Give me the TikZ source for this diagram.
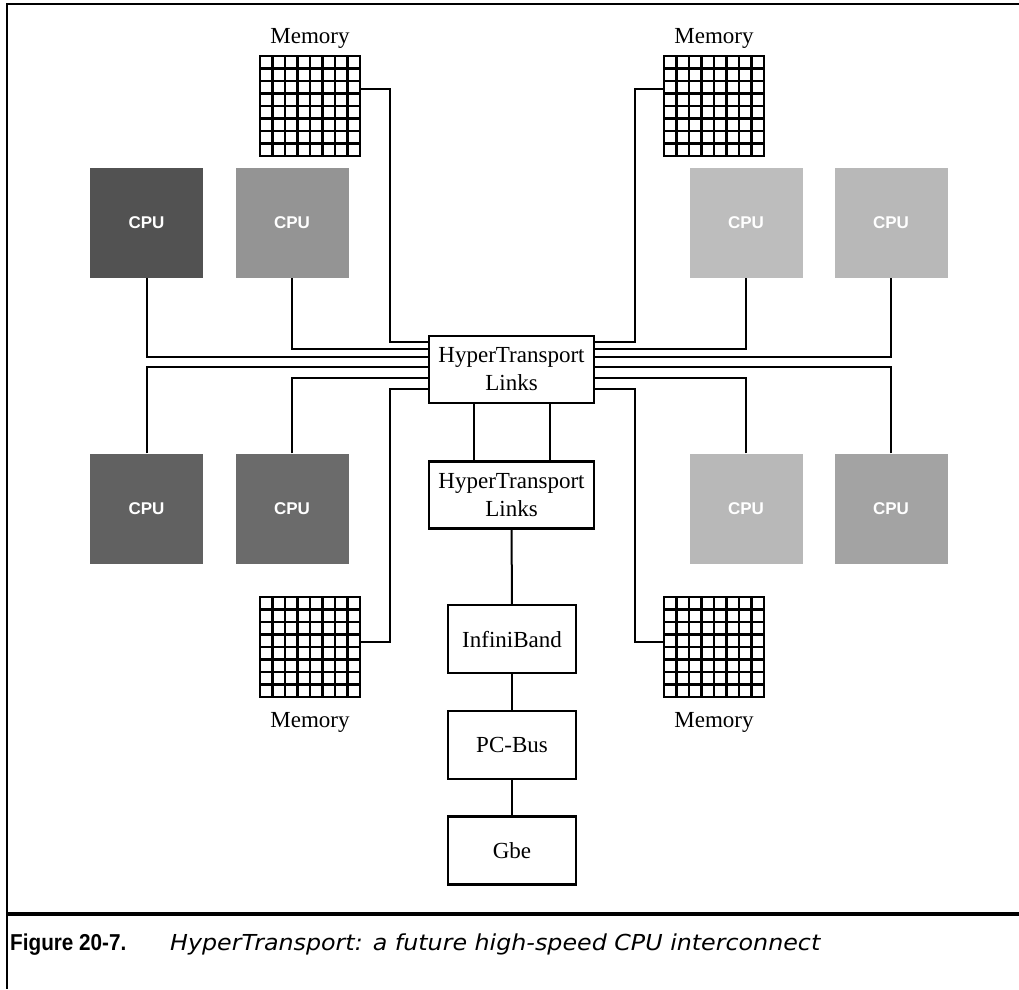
\documentclass[tikz,border=0pt]{standalone}
\usepackage{graphicx}
\usepackage{fontspec}
\setmainfont{Liberation Serif}
\newfontfamily\capsans{Liberation Sans}
\newfontfamily\capwide{DejaVu Sans}
\usetikzlibrary{positioning,calc}

\begin{document}
\begin{tikzpicture}[x=1pt,y=-1pt,
 box/.style={draw,line width=2.2pt,minimum width=165pt,minimum height=67pt,inner sep=2pt,align=center,font=\fontsize{23}{28}\selectfont},
 bus/.style={box,minimum width=128pt,minimum height=68pt},
 mem/.style={draw,line width=2.8pt,minimum size=100pt,inner sep=0pt,outer sep=0pt},
 cell/.style={line width=2.5pt},
 cpu/.style={minimum width=113pt,minimum height=110pt,inner sep=0pt,text=white,font=\capsans\bfseries\fontsize{17}{17}\selectfont},
 lab/.style={font=\fontsize{23}{28}\selectfont},
 link/.style={line width=2pt},
 frame/.style={line width=2pt}]
 \useasboundingbox (0,0) rectangle (1019,989);
 % page frame and caption rule
 \draw[frame] (1019,4) -- (7,4) -- (7,989);
 \draw[line width=3.5pt] (7,914) -- (1019,914);
 % memories
 \node[mem] (m1) at (310,106) {}; \node[lab] (ml1) at (310,38) {Memory};
 \node[mem] (m2) at (714,106) {}; \node[lab] (ml2) at (714,38) {Memory};
 \node[mem] (m3) at (310,647) {}; \node[lab] (ml3) at (310,722) {Memory};
 \node[mem] (m4) at (714,647) {}; \node[lab] (ml4) at (714,722) {Memory};
 \foreach \m in {m1,m2,m3,m4} {
  \foreach \k in {1,...,7} {
   \draw[cell] ([xshift=\k*12.5pt]\m.north west) -- ([xshift=\k*12.5pt]\m.south west);
   \draw[cell] ([yshift=-\k*12.5pt]\m.north west) -- ([yshift=-\k*12.5pt]\m.north east);
  }
 }
 % processors
 \node[cpu,fill=black!68] (c1) at (146.5,223) {CPU};
 \node[cpu,fill=black!42] (c2) at (292,223) {CPU};
 \node[cpu,fill=black!26] (c5) at (746,223) {CPU};
 \node[cpu,fill=black!28] (c6) at (891,223) {CPU};
 \node[cpu,fill=black!62] (c3) at (146.5,508.5) {CPU};
 \node[cpu,fill=black!58] (c4) at (292,508.5) {CPU};
 \node[cpu,fill=black!28] (c7) at (746,508.5) {CPU};
 \node[cpu,fill=black!36] (c8) at (891,508.5) {CPU};
 % switch chain
 \node[box] (ht1) at (511.5,369.5) {HyperTransport\\Links};
 \node[box] (ht2) at (511.5,495) {HyperTransport\\Links};
 \node[bus] (ib) at (512,639) {InfiniBand};
 \node[bus] (pc) at (512,745) {PC-Bus};
 \node[bus] (gbe) at (512,850.5) {Gbe};
 % links, left side
 \draw[link] ([yshift=17pt]m1.east) -| ([xshift=-38pt,yshift=27.5pt]ht1.west) -- ([yshift=27.5pt]ht1.west);
 \draw[link] (c2.south) |- ([yshift=20.5pt]ht1.west);
 \draw[link] (c1.south) |- ([yshift=12.5pt]ht1.west);
 \draw[link] (c3.north) |- ([yshift=2.5pt]ht1.west);
 \draw[link] (c4.north) |- ([yshift=-8.5pt]ht1.west);
 \draw[link] ([yshift=5pt]m3.east) -| ([xshift=-38pt,yshift=-19.5pt]ht1.west) -- ([yshift=-19.5pt]ht1.west);
 % links, right side
 \draw[link] ([yshift=17pt]m2.west) -| ([xshift=40pt,yshift=27.5pt]ht1.east) -- ([yshift=27.5pt]ht1.east);
 \draw[link] (c5.south) |- ([yshift=20.5pt]ht1.east);
 \draw[link] (c6.south) |- ([yshift=12.5pt]ht1.east);
 \draw[link] (c8.north) |- ([yshift=2.5pt]ht1.east);
 \draw[link] (c7.north) |- ([yshift=-8.5pt]ht1.east);
 \draw[link] ([yshift=5pt]m4.west) -| ([xshift=40pt,yshift=-19.5pt]ht1.east) -- ([yshift=-19.5pt]ht1.east);
 % links, down the chain
 \draw[link] ([xshift=-38pt]ht1.south) -- ([xshift=-38pt]ht2.north);
 \draw[link] ([xshift=38pt]ht1.south) -- ([xshift=38pt]ht2.north);
 \draw[link] (ht2) -- (ib);
 \draw[link] (ib) -- (pc);
 \draw[link] (pc) -- (gbe);
 % caption
 \node[anchor=base west,inner sep=0pt,font=\capsans\bfseries\fontsize{23}{26}\selectfont] (fig) at (10,950) {\scalebox{0.9}[1]{Figure 20-7.}};
 \node[anchor=base west,inner sep=0pt,font=\capwide\itshape\fontsize{22}{26}\selectfont] (cap) at (170,950) {\scalebox{1.08}[1]{HyperTransport: a future high-speed CPU interconnect}};
\end{tikzpicture}
\end{document}
